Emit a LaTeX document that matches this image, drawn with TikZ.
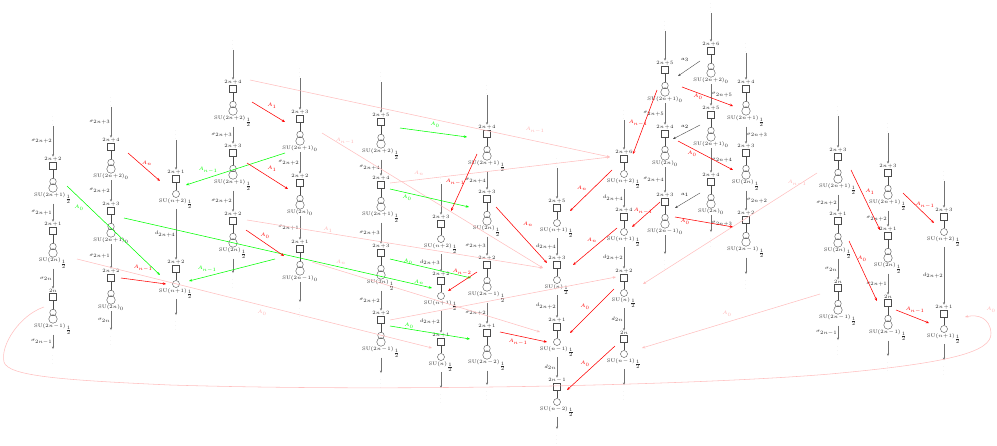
\documentclass[tikz,border=0pt]{standalone}
\usetikzlibrary{arrows.meta}
\newcommand\gSU{\mathrm{SU}}
\newcommand\qcol[8]{%
 \node[dotsn] (#1-0) at (#2,#4) {$\vdots$};
 \foreach \Ya/\Fa/\Ga/\Sa [count=\i, remember=\i as \pj (initially 0)] in {#6} {
   \node[fbox] (#1-\i-b) at (#2,\Ya) {};
   \node[flab,anchor=south] (#1-\i-f) at (#1-\i-b.north) {$\Fa$};
   \ifnum#3=1
     \node[gsmall] (#1-\i-a) at (#2,\Ya+15.5) {};
     \node[gbig] (#1-\i-g) at (#2,\Ya+22) {};
   \else
     \node[gcirc,alias=#1-\i-a] (#1-\i-g) at (#2,\Ya+15) {};
   \fi
   \node[glab,anchor=north] (#1-\i-l) at (#1-\i-g.south) {$\Ga$};
   \draw[qline] (#1-\i-b) -- (#1-\i-a);
   \ifnum\pj=0
     \draw[varr] (#1-0) -- node[alab,#8] {$\Sa$} (#1-\i-f);
   \else
     \draw[varr] (#1-\pj-l) -- node[alab,#8] {$\Sa$} (#1-\i-f);
   \fi
   \xdef\lastI{\i}
 }
 \node[dotsn] (#1-e) at (#2,#5) {$\vdots$};
 \draw[varr] (#1-\lastI-l) -- node[alab,#8] {$#7$} (#1-e);
}
\newcommand\carr[6]{%
 \coordinate (#1s) at (#3); \coordinate (#1e) at (#4);
 \draw[#2A] (#1s) -- (#1e);
 \node[#2L] (#1l) at (#5) {$#6$};}
\begin{document}
\medmuskip=1mu\relax
\begin{tikzpicture}[x=1pt,y=-1pt,
  every node/.style={inner sep=0.5pt},
  fbox/.style={draw=black!70, rectangle, minimum size=7pt, inner sep=0pt, line width=0.4pt},
  gbig/.style={draw=black!70, circle, minimum size=8.5pt, inner sep=0pt, line width=0.4pt},
  gsmall/.style={draw=black!70, circle, minimum size=6.5pt, inner sep=0pt, line width=0.4pt},
  gcirc/.style={draw=black!70, circle, minimum size=7pt, inner sep=0pt, line width=0.4pt},
  flab/.style={text=black!85, font=\fontsize{4.6}{5}\selectfont},
  glab/.style={text=black!85, font=\fontsize{4.6}{5}\selectfont},
  alab/.style={text=black!85, font=\fontsize{4.2}{5}\selectfont},
  dotsn/.style={text=black!35, font=\fontsize{4}{5}\selectfont},
  qline/.style={line width=0.4pt, black!70},
  varr/.style={-{Stealth[length=2.6pt,width=2.2pt]}, black!55, line width=0.4pt},
  redA/.style={-{Stealth[length=3.2pt,width=2.6pt]}, red, line width=0.55pt},
  redL/.style={text=red, font=\fontsize{4.6}{5}\selectfont},
  grnA/.style={-{Stealth[length=3.2pt,width=2.6pt]}, green, line width=0.55pt},
  grnL/.style={text=green, font=\fontsize{4.6}{5}\selectfont},
  pnkA/.style={-{Stealth[length=3.2pt,width=2.6pt]}, red!25, line width=0.55pt},
  pnkL/.style={text=red!30, font=\fontsize{4.6}{5}\selectfont},
  blkA/.style={-{Stealth[length=2.8pt,width=2.2pt]}, black!70, line width=0.4pt},
  blkL/.style={text=black, font=\fontsize{4.6}{5}\selectfont}]
\useasboundingbox (0,0) rectangle (997,445);
% columns
\qcol{A}{53}{1}{118}{357}{166/2n+2/\gSU(2n+1)_{\frac{1}{2}}/\sigma_{2n+2}, 231/2n+1/\gSU(2n)_{\frac{1}{2}}/\sigma_{2n+1}, 297/2n/\gSU(2n-1)_{\frac{1}{2}}/\sigma_{2n}}{\sigma_{2n-1}}{left}
\qcol{B}{111}{1}{99}{338}{147/2n+4/\gSU(2n+2)_0/\sigma_{2n+3}, 211/2n+3/\gSU(2n+1)_0/\sigma_{2n+2}, 278/2n+2/\gSU(2n)_0/\sigma_{2n+1}}{\sigma_{2n}}{left}
\qcol{C}{176}{0}{132}{323}{179/2n+1/\gSU(n+2)_{\frac{1}{2}}/{}, 269/2n+2/\gSU(n+1)_{\frac{1}{2}}/d_{2n+4}}{}{left}
\qcol{D}{233}{1}{42}{281}{89/2n+4/\gSU(2n+2)_{\frac{1}{2}}/{}, 153/2n+3/\gSU(2n+1)_{\frac{1}{2}}/\sigma_{2n+3}, 221/2n+2/\gSU(2n)_{\frac{1}{2}}/\sigma_{2n+2}}{}{left}
\qcol{E}{300}{1}{70}{310}{119/2n+3/\gSU(2n+1)_0/{}, 183/2n+2/\gSU(2n)_0/\sigma_{2n+2}, 249/2n+1/\gSU(2n-1)_0/\sigma_{2n+1}}{}{left}
\qcol{F}{381}{1}{74}{381}{122/2n+5/\gSU(2n+2)_{\frac{1}{2}}/{}, 185/2n+4/\gSU(2n+1)_{\frac{1}{2}}/\sigma_{2n+4}, 253/2n+3/\gSU(2n)_{\frac{1}{2}}/\sigma_{2n+3}, 320/2n+2/\gSU(2n-1)_{\frac{1}{2}}/\sigma_{2n+2}}{}{left}
\qcol{G}{441}{0}{176}{396}{224/2n+3/\gSU(n+2)_{\frac{1}{2}}/{}, 281/2n+2/\gSU(n+1)_{\frac{1}{2}}/d_{2n+3}, 342/2n+1/\gSU(n)_{\frac{1}{2}}/d_{2n+2}}{}{left}
\qcol{H}{487}{1}{87}{393}{134/2n+4/\gSU(2n+1)_{\frac{1}{2}}/{}, 199/2n+3/\gSU(2n)_{\frac{1}{2}}/\sigma_{2n+4}, 265/2n+2/\gSU(2n-1)_{\frac{1}{2}}/\sigma_{2n+3}, 333/2n+1/\gSU(2n-2)_{\frac{1}{2}}/\sigma_{2n+2}}{}{left}
\qcol{I}{557}{0}{160}{437}{208/2n+5/\gSU(n+1)_{\frac{1}{2}}/{}, 265/2n+3/\gSU(n)_{\frac{1}{2}}/d_{2n+4}, 327/2n+1/\gSU(n-1)_{\frac{1}{2}}/d_{2n+2}, 387/2n-1/\gSU(n-2)_{\frac{1}{2}}/d_{2n}}{}{left}
\qcol{J}{624}{0}{112}{393}{159/2n+6/\gSU(n+2)_{\frac{1}{2}}/{}, 217/2n+4/\gSU(n+1)_{\frac{1}{2}}/d_{2n+4}, 278/2n+2/\gSU(n)_{\frac{1}{2}}/d_{2n+2}, 339/2n/\gSU(n-1)_{\frac{1}{2}}/d_{2n}}{}{left}
\qcol{K}{665}{1}{23}{262}{70/2n+5/\gSU(2n+1)_0/{}, 134/2n+4/\gSU(2n)_0/\sigma_{2n+5}, 202/2n+3/\gSU(2n-1)_0/\sigma_{2n+4}}{}{left}
\qcol{L}{711}{1}{5}{240}{51/2n+6/\gSU(2n+2)_0/{}, 115/2n+5/\gSU(2n+1)_0/\sigma_{2n+5}, 182/2n+4/\gSU(2n)_0/\sigma_{2n+4}}{\sigma_{2n+3}}{right}
\qcol{M}{746}{1}{45}{282}{89/2n+4/\gSU(2n+1)_{\frac{1}{2}}/{}, 153/2n+3/\gSU(2n)_{\frac{1}{2}}/\sigma_{2n+3}, 220/2n+2/\gSU(2n-1)_{\frac{1}{2}}/\sigma_{2n+2}}{}{right}
\qcol{N}{838}{1}{108}{348}{157/2n+3/\gSU(2n+1)_{\frac{1}{2}}/{}, 221/2n+1/\gSU(2n)_{\frac{1}{2}}/\sigma_{2n+2}, 288/2n/\gSU(2n-1)_{\frac{1}{2}}/\sigma_{2n}}{\sigma_{2n-1}}{left}
\qcol{O}{888}{1}{125}{364}{173/2n+3/\gSU(2n+1)_{\frac{1}{2}}/{}, 236/2n+1/\gSU(2n)_{\frac{1}{2}}/\sigma_{2n+2}, 303/2n/\gSU(2n-1)_{\frac{1}{2}}/\sigma_{2n+1}}{}{left}
\qcol{P}{944}{0}{173}{368}{217/2n+3/\gSU(n+2)_{\frac{1}{2}}/{}, 314/2n+1/\gSU(n+1)_{\frac{1}{2}}/d_{2n+2}}{}{left}
% pink (faint) transitions
\carr{P1}{pnk}{250,80}{610,157}{535,130}{A_{n-1}}
\carr{P2}{pnk}{322,133}{543,268}{345,141}{A_{n-1}}
\carr{P3}{pnk}{390,183}{610,157}{419,173}{A_n}
\carr{P4}{pnk}{247,220}{543,268}{328,230}{A_1}
\carr{P5}{pnk}{390,320}{616,277}{440,300}{}
\carr{P6}{pnk}{77,259}{432,348}{262,313}{A_0}
\carr{P7}{pnk}{312,262}{540,332}{341,262}{A_n}
\carr{P8}{pnk}{817,173}{643,284}{797,183}{A_{n-1}}
\carr{P9}{pnk}{820,294}{642,348}{727,314}{A_0}
\coordinate (P10s) at (44,307);
\coordinate (P10e) at (965,317);
\draw[pnkA] (P10s) .. controls (20,315) and (0,345) .. (4,362)
  .. controls (8,376) and (60,380) .. (170,385)
  .. controls (400,392) and (700,385) .. (830,374)
  .. controls (950,363) and (992,352) .. (991,333)
  .. controls (990,318) and (978,314) .. (P10e);
\node[pnkL] (P10l) at (991,310) {$A_0$};
% green transitions
\carr{G1}{grn}{67,186}{160,275}{79,208}{A_0}
\carr{G2}{grn}{124,218}{432,288}{419,282}{A_n}
\carr{G3}{grn}{285,153}{186,185}{208,170}{A_{n-1}}
\carr{G4}{grn}{275,259}{189,281}{207,269}{A_{n-1}}
\carr{G5}{grn}{400,128}{467,137}{435,125}{A_0}
\carr{G6}{grn}{390,189}{469,207}{407,198}{A_0}
\carr{G7}{grn}{390,259}{471,278}{408,262}{A_0}
\carr{G8}{grn}{390,326}{470,339}{409,326}{A_0}
% red transitions
\carr{R1}{red}{128,153}{160,181}{147,163}{A_n}
\carr{R2}{red}{121,278}{166,284}{143,268}{A_{n-1}}
\carr{R3}{red}{252,102}{285,122}{272,106}{A_1}
\carr{R4}{red}{247,163}{288,189}{272,169}{A_1}
\carr{R5}{red}{246,230}{284,256}{265,236}{A_0}
\carr{R6}{red}{477,154}{451,211}{455,182}{A_{n-1}}
\carr{R7}{red}{477,272}{448,291}{462,272}{A_{n-2}}
\carr{R8}{red}{496,207}{547,263}{528,224}{A_n}
\carr{R9}{red}{612,170}{570,211}{582,188}{A_n}
\carr{R10}{red}{657,90}{633,154}{638,123}{A_{n-1}}
\carr{R11}{red}{617,228}{573,265}{592,240}{A_n}
\carr{R12}{red}{660,202}{632,227}{643,211}{A_{n-1}}
\carr{R13}{red}{614,289}{570,333}{585,307}{A_0}
\carr{R14}{red}{615,346}{567,390}{585,364}{A_0}
\carr{R15}{red}{500,332}{547,342}{518,342}{A_{n-1}}
\carr{R16}{red}{682,87}{733,106}{698,97}{A_0}
\carr{R17}{red}{678,141}{733,170}{692,154}{A_0}
\carr{R18}{red}{675,217}{733,227}{685,222}{A_0}
\carr{R19}{red}{851,170}{880,230}{870,192}{A_1}
\carr{R20}{red}{903,193}{934,223}{925,205}{A_{n-1}}
\carr{R21}{red}{849,241}{877,301}{862,259}{A_0}
\carr{R22}{red}{896,310}{929,323}{915,310}{A_{n-1}}
% black transitions
\carr{K1}{blk}{700,61}{678,76}{685,60}{a_3}
\carr{K2}{blk}{700,125}{673,139}{685,127}{a_2}
\carr{K3}{blk}{700,193}{675,208}{685,195}{a_1}
\end{tikzpicture}
\end{document}
